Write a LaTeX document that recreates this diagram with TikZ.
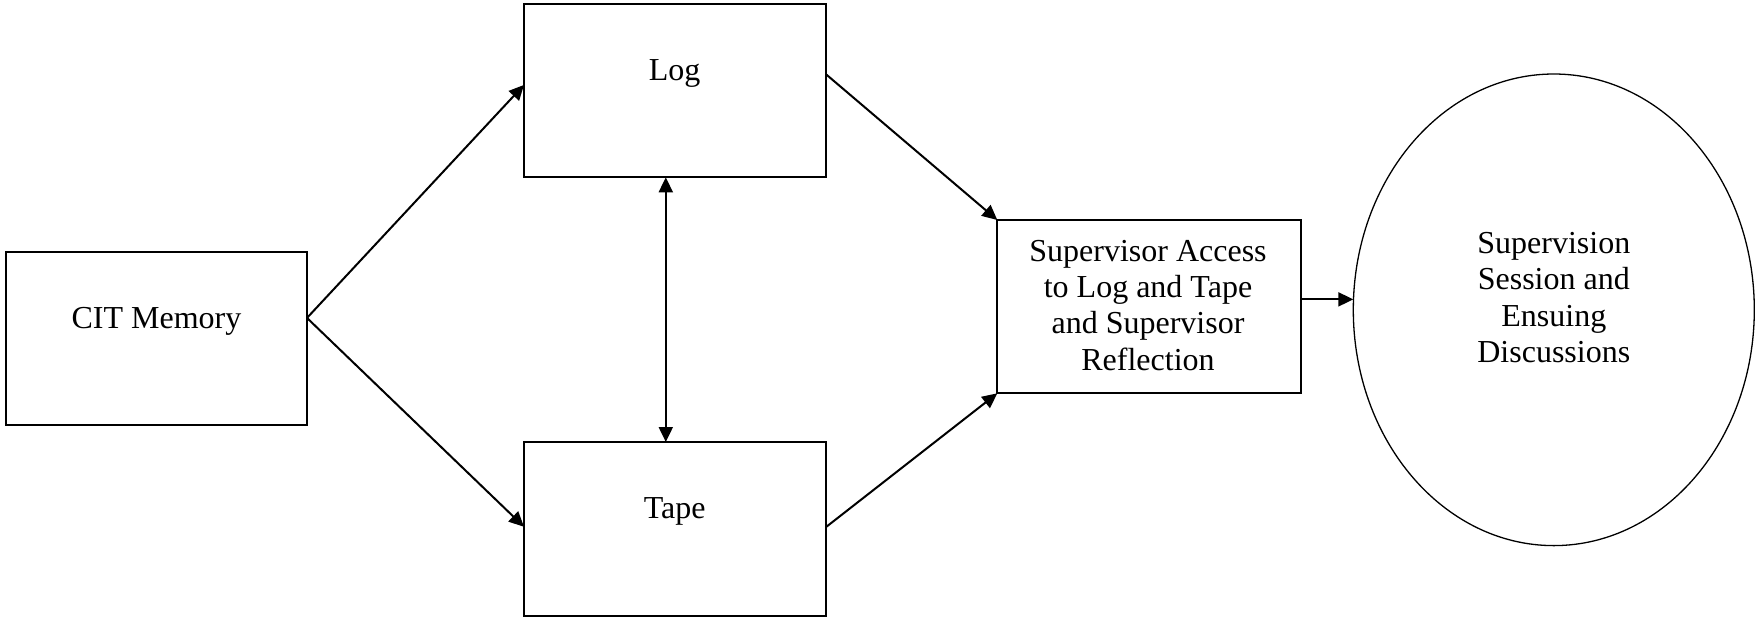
\documentclass[tikz,border=0pt]{standalone}
\usepackage{fontspec}
\setmainfont{Liberation Serif}
\usetikzlibrary{arrows.meta,calc,shapes.geometric}
\begin{document}
\begin{tikzpicture}[x=0.5pt,y=-0.5pt,
  box/.style={draw,line width=1.15pt,rectangle,inner sep=0pt,outer sep=0pt},
  oval/.style={draw,line width=0.65pt,ellipse,inner sep=0pt,outer sep=0pt},
  txt/.style={font=\fontsize{16pt}{18.2pt}\selectfont,align=center,inner sep=0pt,anchor=base},
  arr/.style={line width=1pt,-{Triangle[length=7.5pt,width=7pt]}},
  darr/.style={line width=1pt,{Triangle[length=7.5pt,width=7pt]}-{Triangle[length=7.5pt,width=7pt]}}]
\useasboundingbox (0,0) rectangle (1756,618);
% boxes
\node[box,minimum width=150.5pt,minimum height=86.35pt] (cit) at (156.5,338.65) {};
\node[box,minimum width=150.85pt,minimum height=86.65pt] (log) at (674.85,90.65) {};
\node[box,minimum width=150.85pt,minimum height=86.85pt] (tape) at (674.85,528.85) {};
\node[box,minimum width=151.7pt,minimum height=86.65pt] (sup) at (1149,306.65) {};
\node[oval,minimum width=200.5pt,minimum height=235.8pt] (ses) at (1553.8,309.8) {};
% texts (base anchor = baseline of the last line)
\node[txt] (citT) at (156.5,328.3) {CIT Memory};
\node[txt] (logT) at (674.7,80) {Log};
\node[txt] (tapeT) at (674.7,518.3) {Tape};
\node[txt] (supT) at (1148,370.2) {Supervisor Access\\to Log and Tape\\and Supervisor\\Reflection};
\node[txt] (sesT) at (1553.8,362.5) {Supervision\\Session and\\Ensuing\\Discussions};
% connector ends
\coordinate (citA) at ($(cit.north east)!0.38!(cit.south east)$);
\coordinate (logIn) at ($(log.north west)!0.467!(log.south west)$);
\coordinate (tapeIn) at ($(tape.north west)!0.488!(tape.south west)$);
\coordinate (logOut) at ($(log.north east)!0.404!(log.south east)$);
\coordinate (tapeOut) at ($(tape.north east)!0.491!(tape.south east)$);
\coordinate (logB) at ($(log.south west)!0.47!(log.south east)$);
\coordinate (tapeB) at ($(tape.north west)!0.47!(tape.north east)$);
\coordinate (supOut) at ($(sup.north east)!0.458!(sup.south east)$);
% connectors
\draw[arr] (citA) -- (logIn);
\draw[arr] (citA) -- (tapeIn);
\draw[darr] (logB) -- (tapeB);
\draw[arr] (logOut) -- (sup.north west);
\draw[arr] (tapeOut) -- (sup.south west);
\draw[arr] (supOut) -- (supOut -| ses.west);
\end{tikzpicture}
\end{document}
